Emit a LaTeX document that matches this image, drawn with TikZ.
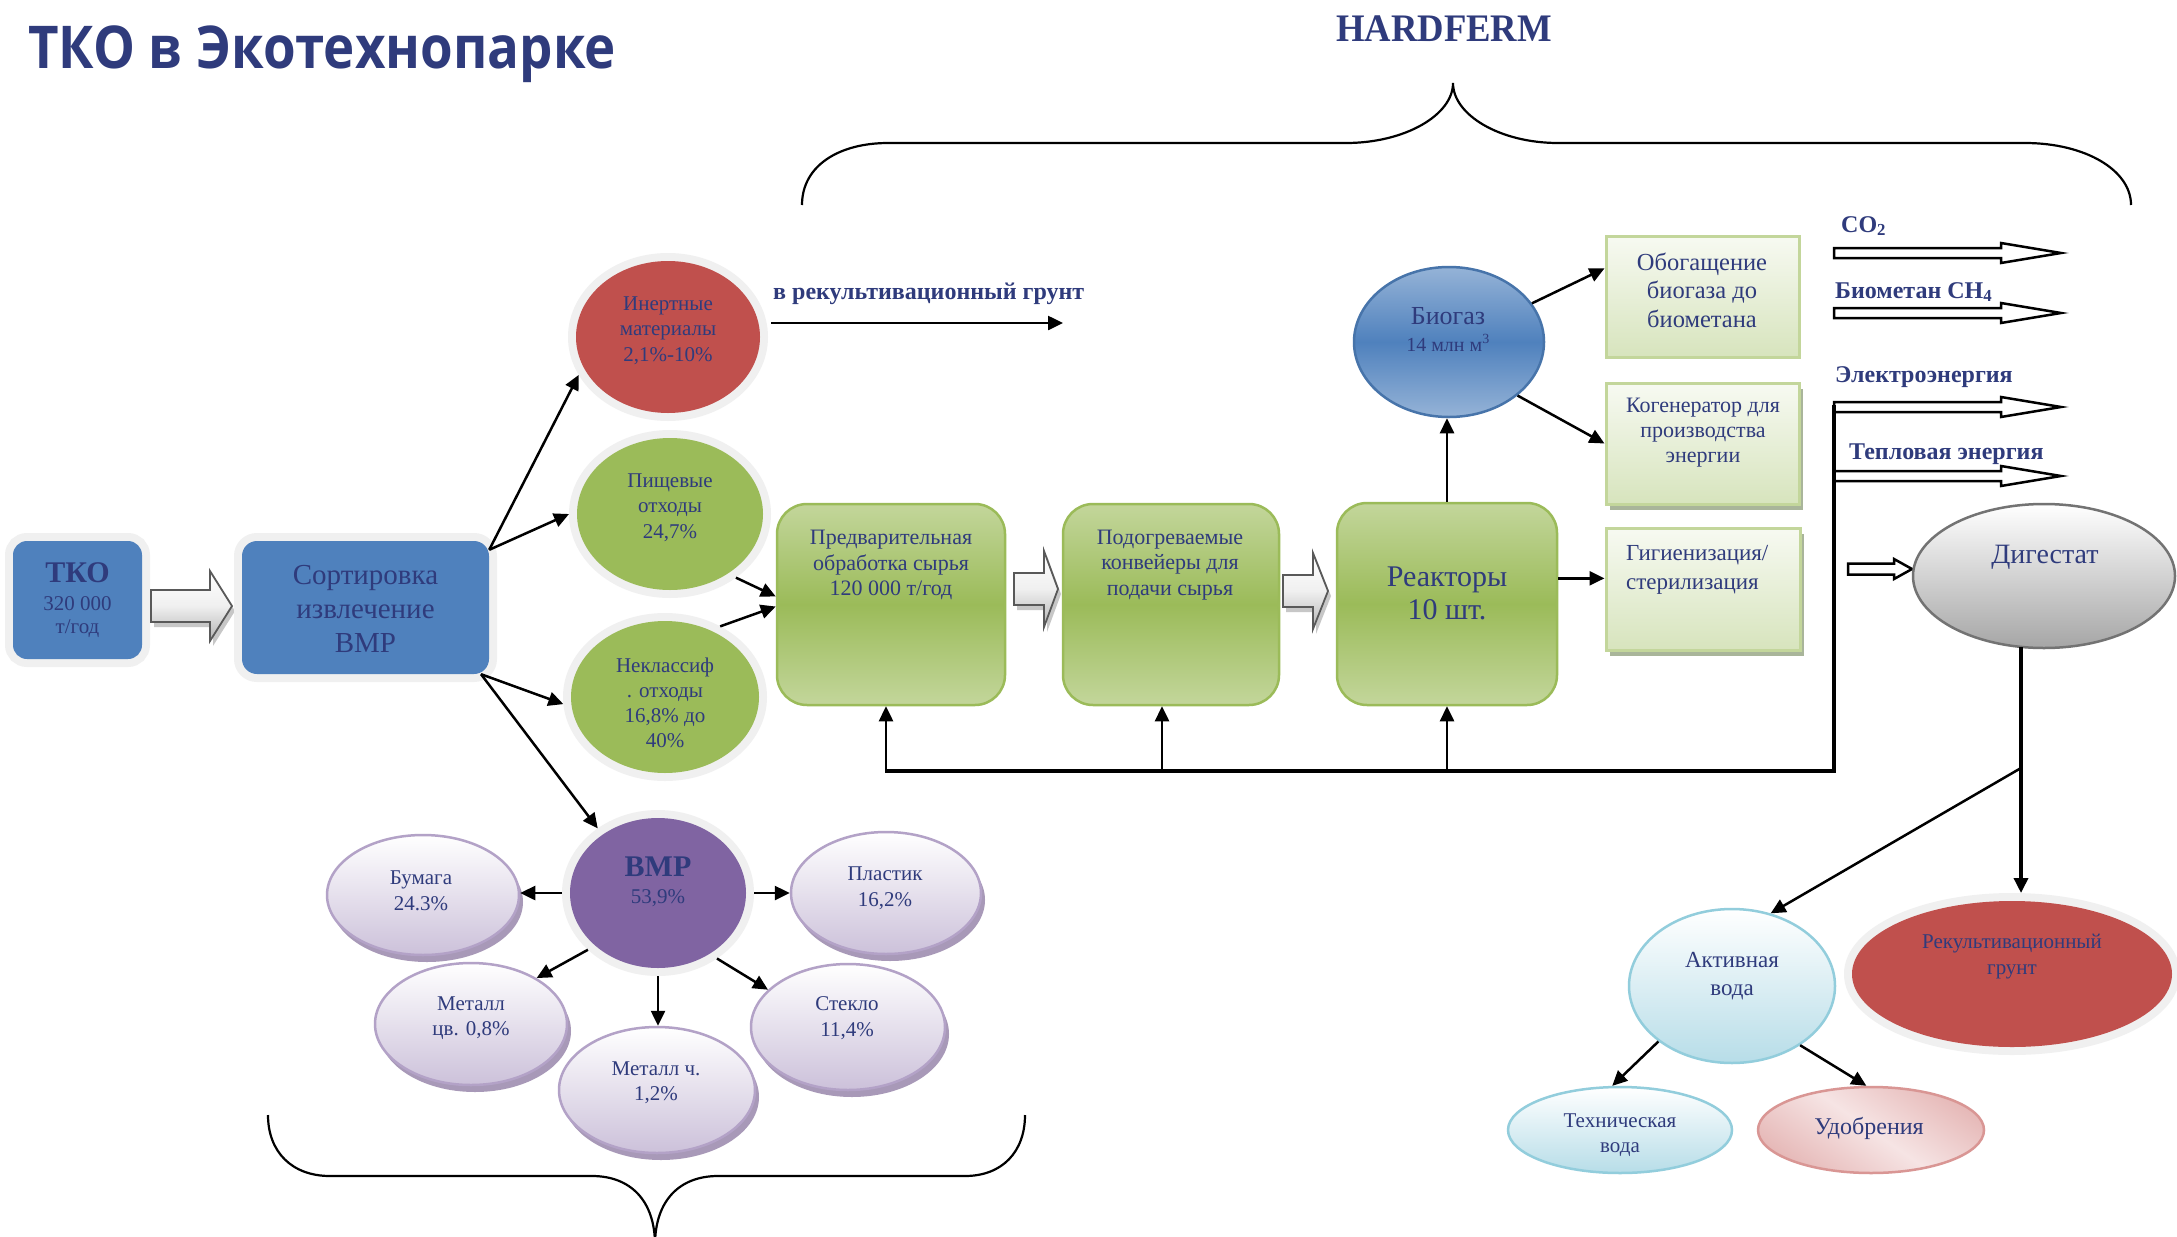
\documentclass[tikz,border=0pt]{standalone}
\usepackage{graphicx}
\usepackage{fontspec}
\setmainfont{Liberation Serif}
\newfontfamily\titlefont{Open Sans}
\usetikzlibrary{arrows.meta,shapes.geometric,shadows,calc}
\definecolor{navy}{HTML}{2F3B7C}
\definecolor{haloc}{HTML}{F0F0F0}
\definecolor{bluec}{HTML}{4F81BD}
\definecolor{redc}{HTML}{C0504D}
\definecolor{greenc}{HTML}{9BBB59}
\definecolor{greenl}{HTML}{C3D69B}
\definecolor{purplec}{HTML}{8064A2}
\definecolor{lavb}{HTML}{B3A2C7}
\definecolor{lavf}{HTML}{CCC1DA}
\definecolor{lavs}{HTML}{A899B8}
\definecolor{lgb}{HTML}{C3D69B}
\definecolor{lgf}{HTML}{D7E4BD}
\definecolor{lgs}{HTML}{A9B59A}
\definecolor{bioL}{HTML}{95B3D7}
\definecolor{aquaf}{HTML}{B7DDE8}
\definecolor{aquab}{HTML}{92CDDC}
\definecolor{pinkf}{HTML}{E6B9B8}
\definecolor{pinkl}{HTML}{F6E4E4}
\definecolor{pinkb}{HTML}{D99694}
\newcommand\myfs[2]{\fontsize{#1pt}{#2pt}\selectfont}
\newcommand\grayarrowX[6]{\shade[garrow] (#1,#4-#5) -- (#2,#4-#5) -- (#2,#4-#6) -- (#3,#4) -- (#2,#4+#6) -- (#2,#4+#5) -- (#1,#4+#5) -- cycle;}
\newcommand\hollowarrowX[6]{\draw[harrow] (#1,#4-#5) -- (#2,#4-#5) -- (#2,#4-#6) -- (#3,#4) -- (#2,#4+#6) -- (#2,#4+#5) -- (#1,#4+#5) -- cycle;}
\begin{document}
\begin{tikzpicture}[x=1pt,y=-1pt,
  halo/.style={preaction={draw=haloc,line width=16pt}},
  txt/.style={align=center,text=navy,inner sep=0pt},
  lbl/.style={inner sep=0pt,text=navy,font=\bfseries\myfs{24}{24}},
  arr/.style={-{Triangle[length=15pt,width=14pt]},line width=2.5pt},
  bigell/.style={ellipse,inner sep=0pt,outer sep=8pt,halo},
  bluebox/.style={rectangle,fill=bluec,inner sep=0pt,halo},
  gbox/.style={rectangle,rounded corners=30pt,draw=greenc,line width=2.5pt,top color=greenl,bottom color=greenl,middle color=greenc,inner sep=0pt},
  lbox/.style={rectangle,draw=lgb,line width=3pt,top color=lgf!20,bottom color=lgf,inner sep=0pt},
  lshad/.style={drop shadow={shadow xshift=4pt,shadow yshift=-6pt,fill=lgs,opacity=1}},
  pell/.style={ellipse,inner sep=0pt,draw=lavb,line width=2.5pt,top color=white,bottom color=lavf,drop shadow={shadow xshift=4pt,shadow yshift=-7pt,fill=lavs,opacity=1}},
  aell/.style={ellipse,inner sep=0pt,draw=aquab,line width=2.5pt,top color=white,bottom color=aquaf},
  garrow/.style={top color=white,bottom color=gray!60,middle color=gray!12,draw=gray!70!black,line width=1.8pt,drop shadow={shadow xshift=3pt,shadow yshift=-5pt,fill=gray!55,opacity=0.8}},
  harrow/.style={fill=white,draw=black,line width=2.5pt,line join=miter},
  bracel/.style={line width=2.2pt}]
\useasboundingbox (0,0) rectangle (2177,1237);
\fill[white] (0,0) rectangle (2177,1237);

% titles
\node[anchor=base west,inner sep=0pt,text=navy] (title) at (28,68) {\titlefont\bfseries\myfs{59}{59}\scalebox{0.895}[1]{ТКО в Экотехнопарке}};
\node[anchor=base,inner sep=0pt,text=navy] (hardferm) at (1444,41) {\bfseries\myfs{39}{39}\scalebox{0.94}[1]{HARDFERM}};

% braces
\draw[bracel] (802,205) .. controls (802,165) and (840,143) .. (888,143) -- (1346,143) .. controls (1405,143) and (1453,115) .. (1453,83) .. controls (1453,115) and (1500,143) .. (1558,143) -- (2025,143) .. controls (2085,143) and (2131,170) .. (2131,205);
\draw[bracel] (268,1115) .. controls (268,1152) and (292,1176) .. (330,1176) -- (592,1176) .. controls (630,1176) and (655,1200) .. (655,1245);
\draw[bracel] (655,1245) .. controls (655,1200) and (680,1176) .. (718,1176) -- (965,1176) .. controls (1002,1176) and (1025,1152) .. (1025,1115);

% left part
\node[bluebox,rounded corners=14pt,minimum width=129pt,minimum height=118pt] (tko) at (77.5,600) {};
\node[txt,font=\myfs{21}{23}] (tko-t) at (77.5,600) {{\bfseries\myfs{30}{30}ТКО}\\[5pt]320 000\\т/год};
\grayarrowX{151}{210}{232}{606}{16}{35}
\node[bluebox,rounded corners=15pt,minimum width=247pt,minimum height=133pt] (sort) at (365.5,607.5) {};
\node[txt,font=\myfs{29}{34}] (sort-t) at (365.5,609) {Сортировка\\извлечение\\ВМР};

\node[bigell,fill=redc,minimum width=184pt,minimum height=152pt] (inert) at (668,337) {};
\node[txt,font=\myfs{21}{25.5}] (inert-t) at (668,330.5) {Инертные\\материалы\\2,1\%-10\%};
\node[bigell,fill=greenc,minimum width=186pt,minimum height=152pt] (pish) at (670,514) {};
\node[txt,font=\myfs{21}{25.5}] (pish-t) at (670,507.5) {Пищевые\\отходы\\24,7\%};
\node[bigell,fill=greenc,minimum width=188pt,minimum height=152pt] (nek) at (665,697) {};
\node[txt,font=\myfs{21}{25}] (nek-t) at (665,703) {Неклассиф\\. отходы\\16,8\% до\\40\%};

\node[lbl,anchor=base west] (rg) at (773,299) {в рекультивационный грунт};
\coordinate (rgs) at (771,323);
\coordinate (rge) at (1063,323);
\draw[arr] (rgs) -- (rge);

% VMR group
\node[bigell,fill=purplec,minimum width=176pt,minimum height=150pt] (vmr) at (658,893) {};
\node[txt,font=\myfs{21}{27}] (vmr-t) at (658,882) {{\bfseries\myfs{30}{30}ВМР}\\53,9\%};
\node[pell,minimum width=192pt,minimum height=120pt] (bum) at (423,895) {};
\node[txt,font=\myfs{21}{26}] (bum-t) at (421,891) {Бумага\\24.3\%};
\node[pell,minimum width=190pt,minimum height=122pt] (pl) at (886,893) {};
\node[txt,font=\myfs{21}{26}] (pl-t) at (885,888) {Пластик\\16,2\%};
\node[pell,minimum width=192pt,minimum height=122pt] (mcv) at (471,1024) {};
\node[txt,font=\myfs{21}{25}] (mcv-t) at (471,1018.5) {Металл\\цв. 0,8\%};
\node[pell,minimum width=196pt,minimum height=126pt] (mch) at (657,1090) {};
\node[txt,font=\myfs{21}{25}] (mch-t) at (656,1083) {Металл ч.\\1,2\%};
\node[pell,minimum width=194pt,minimum height=126pt] (st) at (848,1027) {};
\node[txt,font=\myfs{21}{26}] (st-t) at (847,1018) {Стекло\\11,4\%};

% process boxes
\node[gbox,minimum width=228pt,minimum height=201pt] (pred) at (891,604.5) {};
\node[txt,font=\myfs{22}{25.5}] (pred-t) at (891,565) {Предварительная\\обработка сырья\\120 000 т/год};
\grayarrowX{1014}{1044}{1058}{589}{16}{38}
\node[gbox,minimum width=216pt,minimum height=201pt] (podo) at (1171,604.5) {};
\node[txt,font=\myfs{22}{25.5}] (podo-t) at (1170,565) {Подогреваемые\\конвейеры для\\подачи сырья};
\grayarrowX{1283}{1313}{1328}{591}{16}{38}
\node[gbox,minimum width=220pt,minimum height=202pt] (react) at (1447,604) {};
\node[txt,font=\myfs{30}{33}] (react-t) at (1447,593.5) {Реакторы\\10 шт.};

% biogas
\node[ellipse,inner sep=0pt,draw=bluec!90!black,line width=2.5pt,top color=bioL,bottom color=bioL,middle color=bluec,minimum width=190pt,minimum height=150pt] (bio) at (1449,342) {};
\node[txt,font=\myfs{20}{27}] (bio-t) at (1448,329.5) {{\myfs{26}{26}Биогаз}\\14 млн м\textsuperscript{3}};

\node[lbox,minimum width=193pt,minimum height=121pt] (obog) at (1702.5,296.5) {};
\node[txt,font=\myfs{24.5}{28.5}] (obog-t) at (1702,290) {Обогащение\\биогаза до\\биометана};
\node[lbox,lshad,minimum width=193pt,minimum height=121pt] (kog) at (1702.5,443.5) {};
\node[txt,font=\myfs{22}{25}] (kog-t) at (1703,432.5) {Когенератор для\\производства\\энергии};
\node[lbox,lshad,minimum width=194pt,minimum height=122pt] (gig) at (1703,589) {};
\node[txt,align=left,anchor=west,font=\myfs{23}{29}] (gig-t) at (1626,569.5) {Гигиенизация/\\стерилизация};

% outputs
\node[lbl,anchor=base west] (co2) at (1841,232) {CO\textsubscript{2}};
\node[lbl,anchor=base west] (ch4) at (1835,298) {Биометан CH\textsubscript{4}};
\node[lbl,anchor=base west] (el) at (1835,382) {Электроэнергия};
\node[lbl,anchor=base west] (tep) at (1849,459) {Тепловая энергия};
\hollowarrowX{1834}{2001}{2061}{253}{5}{10}
\hollowarrowX{1834}{2001}{2061}{313}{5}{10}
\hollowarrowX{1834}{2001}{2061}{407}{5}{10}
\hollowarrowX{1834}{2001}{2061}{476}{5}{10}
\hollowarrowX{1848}{1894}{1912}{569}{5.5}{10}

% digestate
\node[ellipse,inner sep=0pt,draw=gray!110,line width=2.5pt,top color=white,bottom color=gray!70,minimum width=262pt,minimum height=144pt] (dig) at (2044,576) {};
\node[txt,anchor=base,font=\myfs{28}{28}] (dig-t) at (2045,563) {Дигестат};
\node[aell,minimum width=206pt,minimum height=154pt] (akt) at (1732,986) {};
\node[txt,font=\myfs{23}{28.5}] (akt-t) at (1732,976) {Активная\\вода};
\node[bigell,fill=redc,minimum width=320pt,minimum height=146pt] (rek) at (2012,974) {};
\node[txt,font=\myfs{21}{26}] (rek-t) at (2012,957) {Рекультивационный\\грунт};
\node[aell,minimum width=224pt,minimum height=86pt] (tech) at (1620,1130) {};
\node[txt,font=\myfs{21}{25}] (tech-t) at (1620,1135) {Техническая\\вода};
\node[ellipse,inner sep=0pt,draw=pinkb,line width=2.5pt,top color=pinkf,bottom color=pinkf,middle color=pinkl,shading angle=-35,minimum width=226pt,minimum height=86pt] (udo) at (1871,1130) {};
\node[txt,anchor=base,font=\myfs{24}{24}] (udo-t) at (1869,1134) {Удобрения};

% connectors
\draw[arr] (sort.25) -- (inert.203);
\draw[arr] (sort.25) -- (pish.180);
\draw[arr] (sort.-30) -- (nek.184);
\draw[arr] (sort.-30) -- (vmr.133);
\draw[arr] (pish.-44) -- (pred.176);
\draw[arr] (nek.52) -- (pred.181);
\draw[arr] (vmr.west) -- (vmr.west -| bum.east);
\draw[arr] (vmr.east) -- (vmr.east -| pl.west);
\draw[arr] (vmr.219) -- (mcv.35);
\draw[arr] (vmr.south) -- (vmr.south |- mch.north);
\draw[arr] (vmr.-48) -- (st.155);
\draw[arr] (react.north) -- (react.north |- bio.south);
\draw[arr] (bio.25) -- (obog.164);
\draw[arr] (bio.-38) -- (kog.west);
\draw[arr] (react.13) -- (react.13 -| gig.west);

% feedback loop
\coordinate (fbtop) at (1834,405);
\coordinate (fbcorner) at (1834,771);
\coordinate (fb1) at (886,771);
\coordinate (fb2) at (1162,771);
\coordinate (fb3) at (1447,771);
\draw[line width=4pt,line join=miter] (fbtop) -- (fbcorner) -- ($(fb1)+(-1.5,0)$);
\draw[arr] (fb1) -- (fb1 |- pred.south);
\draw[arr] (fb2) -- (fb2 |- podo.south);
\draw[arr] (fb3) -- (fb3 |- react.south);

% digestate outputs
\coordinate (digb) at (2021,647);
\coordinate (br) at (2021,768);
\draw[arr,line width=3.5pt] (digb) -- (digb |- rek.north);
\draw[arr] (br) -- (akt.62);
\draw[arr] (akt.217) -- (tech.100);
\draw[arr] (akt.-41) -- (udo.96);
\end{tikzpicture}
\end{document}
